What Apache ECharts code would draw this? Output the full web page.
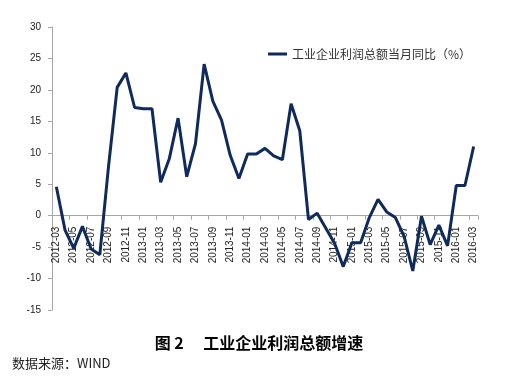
<!DOCTYPE html>
<html>
<head>
<meta charset="utf-8">
<script src="https://cdn.jsdelivr.net/npm/echarts@6/dist/echarts.min.js"></script>
<style>
  html, body { margin: 0; padding: 0; background: #fff; }
  #chart { width: 518px; height: 377px; }
</style>
</head>
<body>
<div id="chart"></div>
<script>
// 月份 2012-03 ~ 2016-03
const months = [
  '2012-03', '2012-04', '2012-05', '2012-06', '2012-07', '2012-08', '2012-09', '2012-10', '2012-11', '2012-12',
  '2013-01', '2013-02', '2013-03', '2013-04', '2013-05', '2013-06', '2013-07', '2013-08', '2013-09', '2013-10',
  '2013-11', '2013-12', '2014-01', '2014-02', '2014-03', '2014-04', '2014-05', '2014-06', '2014-07', '2014-08',
  '2014-09', '2014-10', '2014-11', '2014-12', '2015-01', '2015-02', '2015-03', '2015-04', '2015-05', '2015-06',
  '2015-07', '2015-08', '2015-09', '2015-10', '2015-11', '2015-12', '2016-01', '2016-02', '2016-03'
];
const profitYoy = [
  4.6, -2.3, -5.2, -1.7, -5.3, -6.2, 7.8, 20.4, 22.7, 17.2,
  17.0, 17.0, 5.3, 9.1, 15.5, 6.2, 11.4, 24.1, 18.2, 15.2,
  9.6, 5.9, 9.8, 9.8, 10.7, 9.5, 8.9, 17.8, 13.5, -0.6,
  0.4, -2.0, -4.4, -8.1, -4.3, -4.3, -0.3, 2.6, 0.6, -0.3,
  -3.3, -8.8, -0.1, -4.6, -1.5, -4.8, 4.8, 4.8, 11.0
];
const yMin = -15;
const yMax = 30;
const seriesName = '工业企业利润总额当月同比（%）';
const chartTitle = '图 2　 工业企业利润总额增速';
const sourceNote = '数据来源：WIND';

const lineColor = '#0f2a5c';
const axisColor = '#a6a6a6';

const gridTop = 27;
const gridBottom = 67;
const chartH = 377;
// 横轴放在 0 刻度处（标签跟着走）
const plotH = chartH - gridTop - gridBottom;
const zeroOffset = -plotH * (0 - yMin) / (yMax - yMin);

const myChart = echarts.init(document.getElementById('chart'));
const option = {
  animation: false,
  grid: {
    left: 52,
    right: 40,
    top: gridTop,
    bottom: gridBottom,
  },
  legend: {
    data: [{ name: seriesName, icon: 'rect' }],
    left: 263,
    top: 43,
    itemWidth: 19,
    itemHeight: 3,
    itemGap: 4,
    textStyle: {
      color: '#333',
      fontSize: 12,
      fontFamily: 'Noto Sans CJK SC',
    },
  },
  xAxis: {
    type: 'category',
    data: months,
    boundaryGap: true,
    offset: zeroOffset,
    axisLine: {
      onZero: false,
      lineStyle: { color: axisColor, width: 1 },
    },
    axisTick: {
      show: true,
      interval: 1,
      length: 4,
      lineStyle: { color: axisColor },
    },
    axisLabel: {
      interval: 1,
      rotate: 90,
      margin: 11,
      color: '#222',
      fontSize: 10,
      fontFamily: 'Liberation Sans',
    },
    splitLine: { show: false },
  },
  yAxis: {
    type: 'value',
    min: yMin,
    max: yMax,
    interval: 5,
    axisLine: {
      show: true,
      lineStyle: { color: axisColor, width: 1 },
    },
    axisTick: {
      show: true,
      length: 4,
      lineStyle: { color: axisColor },
    },
    axisLabel: {
      color: '#222',
      fontSize: 10,
      margin: 11,
      fontFamily: 'Liberation Sans',
    },
    splitLine: { show: false },
  },
  series: [
    {
      name: seriesName,
      type: 'line',
      data: profitYoy,
      showSymbol: false,
      symbol: 'none',
      z: 3,
      lineStyle: { color: lineColor, width: 3 },
      itemStyle: { color: lineColor },
    },
  ],
  graphic: [
    {
      type: 'text',
      left: 'center',
      top: 335,
      style: {
        text: chartTitle,
        fill: '#000',
        font: 'bold 16px "Noto Sans CJK SC"',
      },
    },
    {
      type: 'text',
      left: 12,
      top: 357,
      style: {
        text: sourceNote,
        fill: '#222',
        font: '13px "Noto Sans CJK SC"',
      },
    },
  ],
};
myChart.setOption(option);
</script>
</body>
</html>
